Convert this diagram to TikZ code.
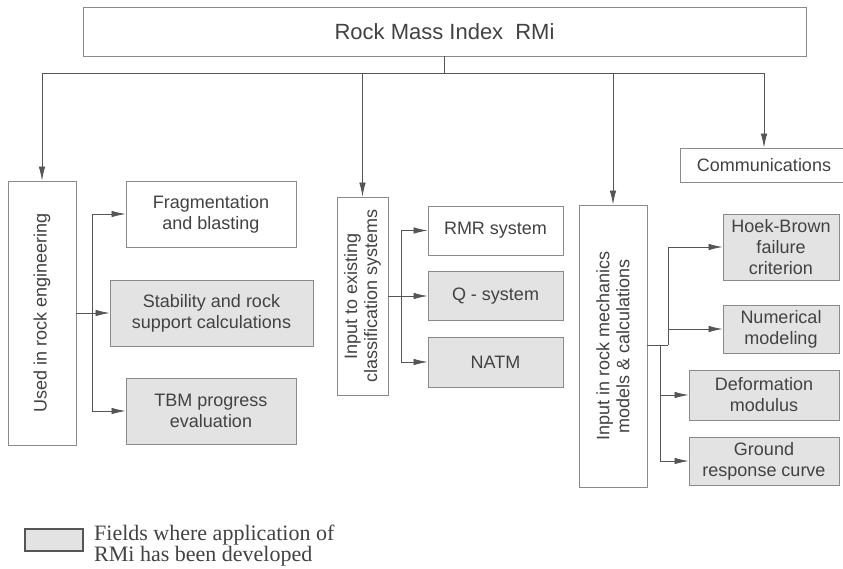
\documentclass[tikz,border=0pt]{standalone}
\usepackage{fontspec}
\setmainfont{Liberation Sans}
\newfontfamily\legfont{Liberation Serif}
\usetikzlibrary{arrows.meta,calc}
\definecolor{boxline}{HTML}{8A8A8A}
\definecolor{boxfill}{HTML}{E3E3E3}
\definecolor{txt}{HTML}{424242}
\definecolor{wirec}{HTML}{555555}
\begin{document}
\begin{tikzpicture}[x=1pt,y=1pt,
  box/.style={draw=boxline, line width=0.9pt, fill=white, text=txt, align=center, inner sep=0pt, font=\fontsize{18}{21}\selectfont},
  app/.style={box, fill=boxfill},
  wire/.style={draw=wirec, line width=0.8pt},
  arr/.style={wire, -{Latex[length=14pt,width=6.5pt]}},
  vlab/.style={rotate=90, align=center, text=txt, inner sep=0pt, font=\fontsize{18}{20}\selectfont}
]
\fill[white] (0,0) rectangle (843,-568);
\useasboundingbox (0,0) rectangle (843,-568);
\begin{scope}
\clip (0,0) rectangle (843,-568);

% top
\node[box, minimum width=723, minimum height=49, font=\fontsize{22}{26}\selectfont] (top) at (444.5,-31.5) {Rock Mass Index\hspace{0.55em}RMi};
\node[box, minimum width=168, minimum height=34] (comm) at (764,-165) {Communications};

% left group
\node[box, minimum width=68, minimum height=264, label={[vlab]center:Used in rock engineering}] (left1) at (42,-313) {};
\node[box, minimum width=170, minimum height=66] (frag) at (211,-214) {Fragmentation\\and blasting};
\node[app, minimum width=203, minimum height=66] (stab) at (211.5,-313) {Stability and rock\\support calculations};
\node[app, minimum width=170, minimum height=66] (tbm) at (211,-411) {TBM progress\\evaluation};

% middle group
\node[box, minimum width=51, minimum height=198, label={[vlab]center:Input to existing\\classification systems}] (mid) at (362.5,-296) {};
\node[box, minimum width=135, minimum height=49] (rmr) at (495.5,-230.5) {RMR system};
\node[app, minimum width=135, minimum height=49] (q) at (495.5,-296) {Q - system};
\node[app, minimum width=135, minimum height=50] (natm) at (495.5,-362) {NATM};

% right group
\node[box, minimum width=68, minimum height=282, label={[vlab]center:Input in rock mechanics\\models \& calculations}] (rm) at (613,-346) {};
\node[app, minimum width=116, minimum height=66] (hb) at (781,-247) {Hoek-Brown\\failure\\criterion};
\node[app, minimum width=116, minimum height=48] (num) at (781,-329) {Numerical\\modeling};
\node[app, minimum width=150, minimum height=50] (def) at (764,-395) {Deformation\\modulus};
\node[app, minimum width=150, minimum height=48] (gr) at (764,-461) {Ground\\response curve};

% bus
\coordinate (bus) at (0,-73);
\draw[wire] (top.south) -- (top.south |- bus);
\draw[wire] (bus -| left1) -- (bus -| comm);
\draw[arr] (bus -| left1) -- (left1.north);
\draw[arr] (bus -| mid) -- (mid.north);
\draw[arr] (bus -| rm) -- (rm.north);
\draw[arr] (bus -| comm) -- (comm.north);

% left connectors
\coordinate (j1) at (92,-313);
\draw[wire] (left1.east |- j1) -- (j1);
\draw[wire] (j1 |- frag.west) -- (j1 |- tbm.west);
\draw[arr] (j1 |- frag.west) -- (frag.west);
\draw[arr] (j1) -- (stab.west);
\draw[arr] (j1 |- tbm.west) -- (tbm.west);

% middle connectors
\coordinate (j2) at (401,-296);
\draw[wire] (mid.east |- j2) -- (j2);
\draw[wire] (j2 |- rmr.west) -- (j2 |- natm.west);
\draw[arr] (j2 |- rmr.west) -- (rmr.west);
\draw[arr] (j2 |- q.west) -- (q.west);
\draw[arr] (j2 |- natm.west) -- (natm.west);

% right connectors
\coordinate (j3) at (668,-345);
\coordinate (j4) at (660,-345);
\draw[wire] (rm.east |- j3) -- (j3);
\draw[wire] (j3 |- hb.west) -- (j3);
\draw[arr] (j3 |- hb.west) -- (hb.west);
\draw[arr] (j3 |- num.west) -- (num.west);
\draw[wire] (j4) -- (j4 |- gr.west);
\draw[arr] (j4 |- def.west) -- (def.west);
\draw[arr] (j4 |- gr.west) -- (gr.west);

% legend
\node[draw=wirec, line width=1.4pt, fill=boxfill, minimum width=58, minimum height=22, inner sep=0pt] (leg) at (54,-540) {};
\node[anchor=west, align=left, text=txt, inner sep=0pt, font=\legfont\fontsize{22}{19.5}\selectfont] (legtext) at (94,-546) {Fields where application of\\RMi has been developed};
\end{scope}
\end{tikzpicture}
\end{document}
